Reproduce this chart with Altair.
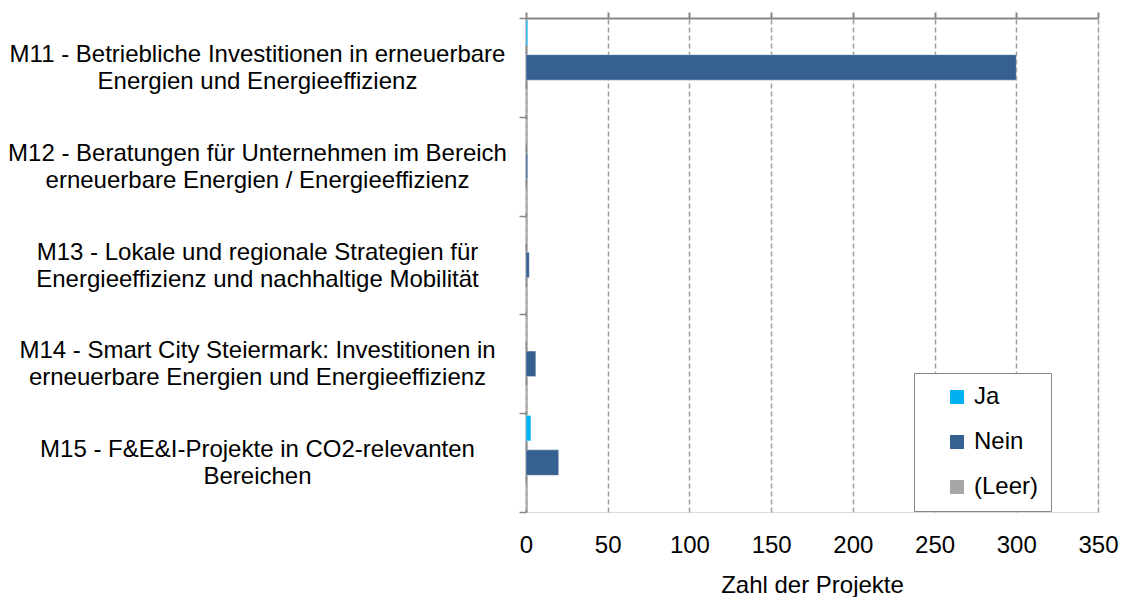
import altair as alt
import pandas as pd

categories = [
    "M11 - Betriebliche Investitionen in erneuerbare|Energien und Energieeffizienz",
    "M12 - Beratungen für Unternehmen im Bereich|erneuerbare Energien / Energieeffizienz",
    "M13 - Lokale und regionale Strategien für|Energieeffizienz und nachhaltige Mobilität",
    "M14 - Smart City Steiermark: Investitionen in|erneuerbare Energien und Energieeffizienz",
    "M15 - F&E&I-Projekte in CO2-relevanten|Bereichen",
]
series = ["Ja", "Nein", "(Leer)"]
ja = [1, 0, 0, 0, 3]
nein = [300, 1, 2, 6, 20]
leer = [0, 0, 0, 0, 0]
colors = ["#00B0F0", "#35608F", "#A6A6A6"]
x_ticks = [0, 50, 100, 150, 200, 250, 300, 350]

rows = []
for i, c in enumerate(categories):
    for s, vals in zip(series, [ja, nein, leer]):
        rows.append({"Maßnahme": c, "Serie": s, "Wert": vals[i]})
df = pd.DataFrame(rows)

FONT = "Liberation Sans"
GRAY = "#868686"
FS = 24

y_axis = alt.Axis(
    title=None,
    labelExpr="split(datum.label, '|')",
    labelAlign="center",
    labelBaseline="middle",
    labelPadding=262,
    labelOffset=-13,
    labelFontSize=FS,
    labelLineHeight=27,
    labelFont=FONT,
    labelColor="black",
    labelLimit=600,
    domainColor=GRAY,
    domainWidth=2,
    tickColor=GRAY,
    tickWidth=1.5,
    tickSize=7,
    tickBand="extent",
    grid=False,
)
y_scale = alt.Scale(paddingInner=0, paddingOuter=0)
x_scale = alt.Scale(domain=[0, 350], nice=False)

bars = alt.Chart(df).mark_bar(stroke="#FFFFFF", strokeOpacity=0.35, strokeWidth=1).encode(
    x=alt.X(
        "Wert:Q",
        scale=x_scale,
        axis=alt.Axis(
            orient="bottom",
            values=x_ticks,
            title="Zahl der Projekte",
            titleFont=FONT,
            titleFontSize=FS,
            titleFontWeight="normal",
            titleColor="black",
            titlePadding=16,
            labelFont=FONT,
            labelFontSize=FS,
            labelColor="black",
            labelPadding=21,
            labelFlush=False,
            domain=False,
            ticks=False,
            grid=True,
            gridColor="#A0A0A0",
            gridDash=[5, 3],
            gridWidth=1.5,
        ),
    ),
    y=alt.Y("Maßnahme:N", sort=categories, scale=y_scale, axis=y_axis),
    yOffset=alt.YOffset(
        "Serie:N",
        sort=series,
        scale=alt.Scale(domain=series, paddingInner=0.26, paddingOuter=0.065),
    ),
    color=alt.Color(
        "Serie:N",
        sort=series,
        scale=alt.Scale(domain=series, range=colors),
        legend=alt.Legend(
            title=None,
            orient="none",
            legendX=388,
            legendY=355,
            strokeColor=GRAY,
            fillColor="white",
            padding=12,
            symbolOffset=19,
            symbolType="square",
            symbolSize=196,
            symbolStrokeWidth=0,
            labelFont=FONT,
            labelFontSize=FS,
            labelColor="black",
            labelOffset=5,
            rowPadding=21,
        ),
    ),
)

top_axis = alt.Chart(df).mark_bar(opacity=0).encode(
    x=alt.X(
        "Wert:Q",
        scale=x_scale,
        axis=alt.Axis(
            orient="top",
            values=x_ticks,
            title=None,
            labels=False,
            domain=True,
            domainColor=GRAY,
            domainWidth=2,
            ticks=True,
            tickColor=GRAY,
            tickWidth=2,
            tickSize=6,
            grid=False,
        ),
    ),
    y=alt.Y("Maßnahme:N", sort=categories, scale=y_scale, axis=y_axis),
)

chart = (
    alt.layer(bars, top_axis)
    .resolve_axis(x="independent")
    .properties(
        width=572,
        height=494,
        autosize=alt.AutoSizeParams(type="none"),
        padding={"left": 518, "top": 10, "right": 21, "bottom": 85},
    )
    .configure_view(stroke=None)
    .configure(background="white")
)

chart.save("out.html", embed_options={"renderer": "svg", "actions": False})
